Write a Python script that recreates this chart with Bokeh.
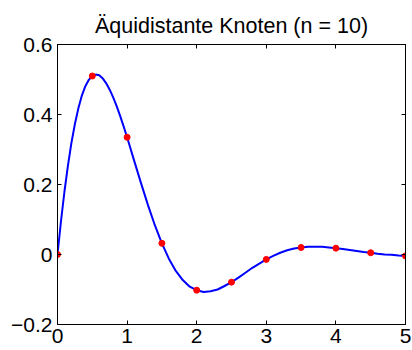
from bokeh.plotting import figure
from bokeh.models import LinearAxis, FixedTicker, CustomJSTickFormatter, Range1d
from bokeh.embed import file_html
from bokeh.resources import INLINE

title_text = "Äquidistante Knoten (n = 10)"

# interpolation nodes (red points)
x_nodes = [0.0, 0.5, 1.0, 1.5, 2.0, 2.5, 3.0, 3.5, 4.0, 4.5, 5.0]
y_nodes = [0.0, 0.510, 0.335, 0.032, -0.102, -0.079, -0.014, 0.020, 0.018, 0.005, -0.004]

# blue curve, values
curve_x = [0.0, 0.05, 0.1, 0.15, 0.2, 0.25, 0.3, 0.35, 0.4, 0.45, 0.5, 0.55, 0.6, 0.65,
           0.7, 0.75, 0.8, 0.85, 0.9, 0.95, 1.0, 1.1, 1.2, 1.3, 1.4, 1.5, 1.6, 1.7,
           1.8, 1.9, 2.0, 2.1, 2.2, 2.3, 2.4, 2.5, 2.6, 2.7, 2.8, 2.9, 3.0, 3.1, 3.2,
           3.3, 3.4, 3.5, 3.6, 3.7, 3.8, 3.9, 4.0, 4.1, 4.2, 4.3, 4.4, 4.5, 4.6, 4.7,
           4.8, 4.9, 5.0]
curve_y = [0.0, 0.095, 0.180, 0.254, 0.319, 0.373, 0.418, 0.454, 0.481, 0.499, 0.510,
           0.514, 0.512, 0.503, 0.489, 0.471, 0.449, 0.424, 0.396, 0.366, 0.335, 0.269,
           0.204, 0.141, 0.083, 0.032, -0.012, -0.047, -0.073, -0.092, -0.102, -0.107,
           -0.105, -0.100, -0.090, -0.079, -0.066, -0.052, -0.038, -0.026, -0.014,
           -0.004, 0.005, 0.012, 0.017, 0.020, 0.022, 0.022, 0.022, 0.020, 0.018,
           0.016, 0.013, 0.010, 0.007, 0.005, 0.002, 0.000, -0.001, -0.003, -0.004]

x_ticks = [0, 1, 2, 3, 4, 5]
y_ticks = [-0.2, 0.0, 0.2, 0.4, 0.6]

FONT = "Liberation Sans"

p = figure(width=412, height=350, output_backend="svg", toolbar_location=None,
           x_range=Range1d(0, 5), y_range=Range1d(-0.2, 0.6),
           min_border_left=57, min_border_right=7, min_border_top=44,
           min_border_bottom=26, title=title_text)

p.background_fill_color = "white"
p.border_fill_color = "white"
p.outline_line_color = "black"
p.outline_line_width = 1
p.outline_line_alpha = 1.0
p.xgrid.grid_line_color = None
p.ygrid.grid_line_color = None

p.title.text_font = FONT
p.title.text_font_size = "21.5px"
p.title.text_font_style = "normal"
p.title.text_color = "black"
p.title.align = "center"
p.title.vertical_align = "top"
p.title.standoff = 10

xfmt = CustomJSTickFormatter(code="return tick.toFixed(0);")
yfmt = CustomJSTickFormatter(code="""
if (Math.abs(tick) < 1e-9) { return '0'; }
return tick.toFixed(1).replace('-', '\u2212');
""")

for ax, ticks, fmt in ((p.xaxis[0], x_ticks, xfmt), (p.yaxis[0], y_ticks, yfmt)):
    ax.ticker = FixedTicker(ticks=ticks)
    ax.formatter = fmt
    ax.major_tick_in = 4
    ax.major_tick_out = 0
    ax.minor_tick_line_color = None
    ax.major_tick_line_color = "black"
    ax.axis_line_color = "black"
    ax.major_label_text_font = FONT
    ax.major_label_text_font_size = "21px"
    ax.major_label_text_color = "black"
p.xaxis[0].major_label_standoff = 4
p.yaxis[0].major_label_standoff = 5

for ticks, side in ((y_ticks, "right"), (x_ticks, "above")):
    ax = LinearAxis(ticker=FixedTicker(ticks=ticks),
                    formatter=CustomJSTickFormatter(code="return '';"),
                    major_tick_in=4, major_tick_out=0, major_label_standoff=0,
                    major_label_text_font_size="0px",
                    minor_tick_line_color=None, axis_line_color="black",
                    major_tick_line_color="black")
    p.add_layout(ax, side)

p.line(curve_x, curve_y, line_color="#0000ff", line_width=2)
p.scatter(x_nodes, y_nodes, size=6, color="#ff0000")

open("out.html", "w").write(file_html(p, INLINE))
